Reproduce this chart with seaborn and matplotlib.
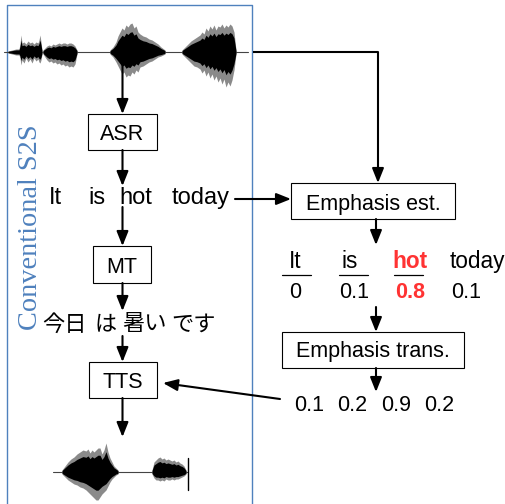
import matplotlib
matplotlib.use("Agg")
import matplotlib.pyplot as plt
import seaborn as sns
import numpy as np
from matplotlib.patches import Rectangle

# ---------------- data ----------------
pipeline_modules = ["ASR", "MT", "TTS"]
emphasis_modules = ["Emphasis est.", "Emphasis trans."]
source_words = ["It", "is", "hot", "today"]
emphasis_scores = [0, 0.1, 0.8, 0.1]
translated_scores = [0.1, 0.2, 0.9, 0.2]
target_words = ["今日", "は", "暑い", "です"]
side_label = "Conventional S2S"
emphasized_index = 2

# waveform envelopes (x, amplitude up, amplitude down), per voiced segment
wave_in_segments = [
    ([8, 12, 16, 19, 20, 21, 22, 24, 26, 28, 30, 32, 34, 36, 38, 39, 40, 41, 42],
     [1, 2, 3, 3, 8, 17, 9, 10, 8, 11, 9, 10, 8, 10, 9, 12, 17, 10, 2],
     [1, 2, 3, 3, 6, 13, 8, 11, 6, 10, 7, 11, 6, 9, 7, 10, 11, 8, 2]),
    ([43, 45, 47, 49, 51, 53, 55, 57, 59, 61, 63, 65, 67, 69, 71, 73, 75, 77],
     [2, 4, 6, 7, 6, 8, 7, 8, 9, 8, 9, 9, 8, 9, 9, 8, 6, 2],
     [2, 5, 8, 10, 9, 11, 10, 12, 11, 13, 12, 14, 13, 15, 14, 15, 12, 2]),
    ([110, 113, 116, 118, 120, 122, 124, 126, 128, 130, 132, 134, 136, 138, 140, 143, 146,
      149, 152, 155, 158, 161, 165],
     [2, 5, 10, 16, 20, 24, 22, 27, 25, 28, 29, 24, 26, 20, 18, 16, 15, 13, 12, 10, 8, 5, 2],
     [2, 5, 10, 14, 18, 22, 20, 25, 23, 24, 20, 22, 18, 20, 15, 14, 12, 10, 9, 7, 5, 4, 2]),
    ([182, 185, 188, 191, 194, 197, 200, 202, 204, 206, 208, 210, 212, 214, 216, 218, 220,
      222, 224, 226, 228, 230, 232, 234, 236],
     [2, 5, 8, 11, 13, 15, 17, 20, 18, 24, 21, 26, 23, 27, 22, 26, 25, 28, 24, 27, 25, 28, 26, 20, 2],
     [2, 5, 8, 11, 14, 15, 17, 21, 18, 24, 20, 26, 22, 28, 24, 30, 26, 32, 27, 35, 30, 34, 28, 18, 2]),
]
wave_out_segments = [
    ([62, 65, 68, 71, 74, 77, 80, 83, 86, 88, 90, 92, 94, 96, 98, 100, 102, 104, 106, 108,
      110, 112, 114, 116, 118],
     [2, 6, 10, 13, 15, 18, 20, 22, 21, 23, 19, 22, 20, 22, 24, 24, 18, 22, 29, 20, 14, 10, 6, 4, 2],
     [2, 5, 8, 10, 12, 13, 15, 16, 18, 20, 22, 24, 26, 28, 28, 25, 22, 20, 18, 14, 10, 7, 5, 3, 2]),
    ([152, 154, 156, 158, 160, 162, 164, 166, 168, 170, 172, 174, 176, 178, 180, 182, 184, 186],
     [2, 10, 12, 14, 15, 13, 14, 12, 13, 12, 11, 12, 10, 11, 9, 8, 6, 2],
     [2, 6, 8, 8, 9, 8, 9, 7, 8, 8, 7, 8, 7, 7, 6, 5, 4, 2]),
]

# ---------------- style / layout ----------------
sns.set_theme(style="white")
plt.rcParams["font.family"] = ["Liberation Sans", "DejaVu Sans"]
plt.rcParams["text.color"] = "black"

W, H = 506, 504
fig = plt.figure(figsize=(W / 100, H / 100), dpi=100)
ax = fig.add_axes([0, 0, 1, 1])
ax.set_xlim(0, W)
ax.set_ylim(H, 0)
ax.axis("off")

BLUE = "#4f81bd"
RED = "#ff3333"
FS = 15.5
LW = 1.5
ARROW = dict(arrowstyle="-|>,head_length=0.55,head_width=0.22", color="black",
             lw=LW, mutation_scale=16, shrinkA=0, shrinkB=0)


def arrow(x0, y0, x1, y1):
    ax.annotate("", xy=(x1, y1), xytext=(x0, y0), arrowprops=ARROW)


def line(xs, ys):
    ax.plot(xs, ys, color="black", lw=LW, solid_capstyle="butt")


def box(x0, y0, x1, y1, label, baseline):
    ax.add_patch(Rectangle((x0, y0), x1 - x0, y1 - y0, fc="white", ec="black", lw=0.8, zorder=3))
    ax.text((x0 + x1) / 2, baseline, label, ha="center", va="baseline", fontsize=FS,
            color="black", zorder=4)


def waveform(segments, x0, x1, yc):
    ax.plot([x0, x1], [yc, yc], color="#444444", lw=0.8, zorder=2)
    for xs, up, dn in segments:
        xs = np.asarray(xs, float)
        up = np.asarray(up, float)
        dn = np.asarray(dn, float)
        ax.fill_between(xs, yc - up, yc + dn, color="#8a8a8a", lw=0, zorder=2)
        ax.fill_between(xs, yc - 0.7 * up, yc + 0.65 * dn, color="black", lw=0, zorder=2)


# blue frame (conventional S2S)
ax.plot([7, 7, 252, 252], [510, 5, 5, 510], color=BLUE, lw=1.0)
ax.text(31, 227, side_label, rotation=90, ha="center", va="center", color=BLUE,
        fontsize=20.4, family="Liberation Serif")

# left column
CX = 122.5
arrow(CX, 60, CX, 114)

# input waveform
waveform(wave_in_segments, 4, 248, 52)

box(88, 114, 157, 150, pipeline_modules[0], 140)
arrow(CX, 150, CX, 186)

src_x = [55.5, 97, 136, 200.5]
for w, x in zip(source_words, src_x):
    ax.text(x, 204, w, ha="center", va="baseline", fontsize=17, color="black")

arrow(CX, 207, CX, 246)
box(93, 246, 151, 283, pipeline_modules[1], 273)
arrow(CX, 283, CX, 311)

tgt_x = [64, 106, 144, 194]
for w, x in zip(target_words, tgt_x):
    ax.text(x, 324, w, ha="center", va="center", fontsize=16, color="black",
            family=["Noto Sans CJK JP", "DejaVu Sans"])

arrow(CX, 336, CX, 362)
box(89, 362, 157, 398, pipeline_modules[2], 388)
arrow(CX, 398, CX, 437)

# output waveform
waveform(wave_out_segments, 53, 188, 472)
ax.plot([188, 188], [458, 490], color="black", lw=1.0)

# right column
RX = 376
line([253, 378], [52, 52])
arrow(378, 52, 378, 183)
arrow(235, 199, 291, 199)
box(291, 183, 455, 219, emphasis_modules[0], 210)
arrow(RX, 219, RX, 245)

word_x = [295, 350, 410, 477]
under = [(282, 311), (339, 368), (394, 423)]
score_x = [295, 354, 410, 466]
for i, (w, x, s, sx) in enumerate(zip(source_words, word_x, emphasis_scores, score_x)):
    emph = i == emphasized_index
    ax.text(x, 268, w, ha="center", va="baseline", fontsize=16.3,
            color=RED if emph else "black", fontweight="bold" if emph else "normal")
    ax.text(sx, 298, f"{s:g}", ha="center", va="baseline", fontsize=FS,
            color=RED if emph else "black", fontweight="bold" if emph else "normal")
    if i < len(under):
        ax.plot(under[i], [275, 275], color="black", lw=0.9)

arrow(RX, 307, RX, 332)
box(282, 332, 464, 368, emphasis_modules[1], 357)
arrow(RX, 368, RX, 392)

tr_x = [309, 352, 396, 439]
for s, x in zip(translated_scores, tr_x):
    ax.text(x, 411, f"{s:g}", ha="center", va="baseline", fontsize=FS, color="black")

arrow(280, 399, 163, 383)

fig.savefig("out.png", dpi=100)
